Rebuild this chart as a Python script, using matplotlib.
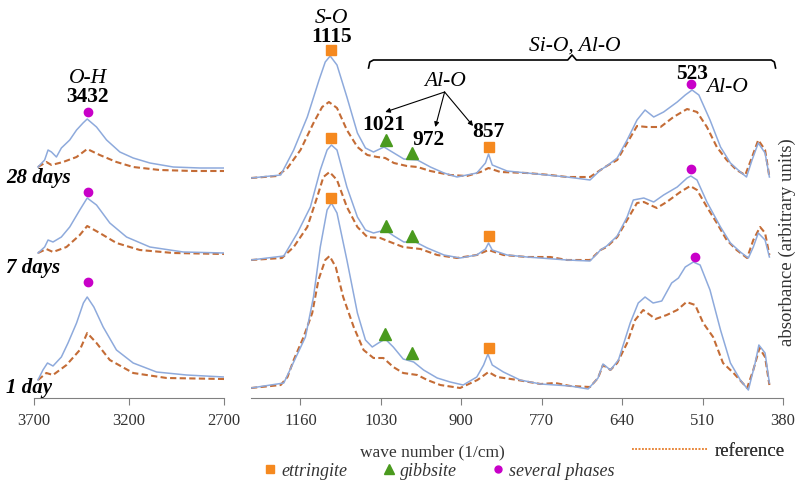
import matplotlib.pyplot as plt
from matplotlib.lines import Line2D
import numpy as np

plt.rcParams['font.family'] = ['Liberation Serif', 'DejaVu Serif']

# spectra: (wave number 1/cm, absorbance a.u., already stacked)
# O-H region
oh_28d_sample = [(3679, 2.31), (3644, 2.38), (3626, 2.48), (3608, 2.46), (3582, 2.41), (3556, 2.50),
                 (3512, 2.58), (3476, 2.68), (3442, 2.75), (3420, 2.79), (3371, 2.71), (3318, 2.58),
                 (3248, 2.46), (3178, 2.40), (3090, 2.35), (2967, 2.31), (2826, 2.30), (2700, 2.30)]
oh_28d_ref = [(3679, 2.31), (3635, 2.36), (3608, 2.33), (3547, 2.36), (3476, 2.41), (3420, 2.49),
              (3354, 2.43), (3266, 2.36), (3178, 2.31), (3038, 2.28), (2862, 2.27), (2700, 2.27)]
oh_7d_sample = [(3679, 1.45), (3644, 1.51), (3626, 1.58), (3600, 1.56), (3556, 1.61), (3512, 1.71),
                (3459, 1.88), (3420, 2.00), (3371, 1.93), (3301, 1.75), (3213, 1.61), (3090, 1.51),
                (2914, 1.46), (2700, 1.45)]
oh_7d_ref = [(3679, 1.45), (3635, 1.49), (3600, 1.46), (3529, 1.51), (3459, 1.63), (3420, 1.72),
             (3354, 1.65), (3266, 1.55), (3143, 1.48), (2967, 1.45), (2700, 1.44)]
oh_1d_sample = [(3679, 0.18), (3653, 0.28), (3629, 0.35), (3600, 0.32), (3556, 0.41), (3521, 0.55),
                (3476, 0.75), (3440, 0.95), (3420, 1.01), (3385, 0.91), (3336, 0.71), (3266, 0.48),
                (3178, 0.35), (3055, 0.26), (2897, 0.23), (2700, 0.21)]
oh_1d_ref = [(3679, 0.18), (3635, 0.25), (3600, 0.23), (3529, 0.33), (3459, 0.48), (3420, 0.65),
             (3371, 0.55), (3301, 0.38), (3178, 0.25), (3002, 0.20), (2700, 0.19)]

# fingerprint region
fp_28d_sample = [(1240, 2.20), (1192, 2.23), (1171, 2.48), (1149, 2.81), (1130, 3.18), (1120, 3.36),
                 (1112, 3.42), (1101, 3.33), (1085, 3.01), (1068, 2.65), (1055, 2.50), (1042, 2.46),
                 (1025, 2.51), (1009, 2.45), (993, 2.39), (971, 2.38), (950, 2.31), (928, 2.25),
                 (907, 2.21), (875, 2.25), (861, 2.35), (856, 2.44), (850, 2.33), (826, 2.27),
                 (794, 2.25), (729, 2.21), (692, 2.18), (675, 2.28), (665, 2.32), (648, 2.40),
                 (632, 2.58), (616, 2.78), (603, 2.88), (589, 2.81), (573, 2.86), (551, 2.96),
                 (538, 3.03), (527, 3.08), (516, 3.03), (498, 2.78), (481, 2.51), (465, 2.35),
                 (449, 2.26), (439, 2.21), (430, 2.38), (420, 2.55), (409, 2.45), (402, 2.21)]
fp_28d_ref = [(1240, 2.20), (1198, 2.22), (1181, 2.30), (1160, 2.48), (1139, 2.75), (1125, 2.91),
              (1114, 2.96), (1101, 2.90), (1085, 2.68), (1068, 2.51), (1052, 2.43), (1036, 2.41),
              (1023, 2.40), (1009, 2.35), (988, 2.32), (971, 2.31), (950, 2.27), (918, 2.23),
              (891, 2.22), (869, 2.26), (856, 2.30), (837, 2.26), (794, 2.25), (756, 2.23),
              (729, 2.21), (692, 2.21), (675, 2.28), (665, 2.32), (648, 2.38), (632, 2.55),
              (616, 2.72), (600, 2.71), (578, 2.71), (557, 2.81), (535, 2.89), (519, 2.86),
              (503, 2.71), (487, 2.51), (471, 2.38), (455, 2.28), (441, 2.23), (430, 2.41),
              (420, 2.58), (409, 2.48), (402, 2.21)]
fp_7d_sample = [(1240, 1.38), (1187, 1.42), (1165, 1.65), (1144, 1.91), (1128, 2.28), (1117, 2.48),
                (1110, 2.53), (1101, 2.48), (1085, 2.11), (1068, 1.81), (1055, 1.68), (1042, 1.65),
                (1023, 1.68), (1009, 1.62), (993, 1.56), (974, 1.56), (955, 1.50), (928, 1.43),
                (902, 1.40), (875, 1.43), (861, 1.49), (856, 1.55), (850, 1.48), (826, 1.43),
                (794, 1.41), (729, 1.38), (692, 1.37), (675, 1.48), (665, 1.52), (648, 1.62),
                (632, 1.81), (622, 1.98), (605, 2.00), (589, 1.96), (573, 2.03), (551, 2.11),
                (535, 2.20), (529, 2.22), (519, 2.18), (503, 1.96), (481, 1.71), (465, 1.55),
                (449, 1.46), (436, 1.40), (428, 1.51), (420, 1.65), (409, 1.58), (402, 1.41)]
fp_7d_ref = [(1240, 1.38), (1190, 1.40), (1171, 1.51), (1149, 1.71), (1133, 2.01), (1123, 2.21),
             (1113, 2.26), (1101, 2.18), (1085, 1.91), (1068, 1.71), (1052, 1.61), (1031, 1.60),
             (1015, 1.56), (994, 1.51), (966, 1.49), (939, 1.43), (907, 1.40), (875, 1.43),
             (856, 1.48), (832, 1.43), (794, 1.41), (756, 1.41), (729, 1.38), (692, 1.38),
             (675, 1.48), (665, 1.51), (648, 1.61), (632, 1.78), (616, 1.95), (605, 1.96),
             (584, 1.90), (568, 1.96), (546, 2.06), (530, 2.12), (519, 2.08), (503, 1.91),
             (487, 1.75), (471, 1.58), (455, 1.48), (438, 1.40), (428, 1.58), (417, 1.71),
             (409, 1.65), (402, 1.43)]
fp_1d_sample = [(1240, 0.10), (1187, 0.15), (1171, 0.36), (1152, 0.61), (1139, 1.01), (1128, 1.51),
                (1117, 1.88), (1110, 1.95), (1101, 1.85), (1085, 1.38), (1068, 0.85), (1055, 0.58),
                (1044, 0.51), (1034, 0.55), (1023, 0.59), (1010, 0.51), (994, 0.39), (977, 0.36),
                (961, 0.28), (939, 0.20), (918, 0.16), (897, 0.13), (875, 0.21), (864, 0.33),
                (857, 0.44), (850, 0.33), (832, 0.26), (805, 0.18), (772, 0.14), (724, 0.12),
                (695, 0.09), (679, 0.20), (671, 0.34), (659, 0.28), (646, 0.38), (627, 0.75),
                (614, 0.95), (603, 1.01), (590, 0.95), (576, 0.97), (560, 1.15), (549, 1.20),
                (538, 1.31), (525, 1.36), (514, 1.33), (498, 1.08), (481, 0.68), (465, 0.35),
                (449, 0.18), (436, 0.08), (425, 0.35), (419, 0.53), (409, 0.45), (402, 0.15)]
fp_1d_ref = [(1240, 0.10), (1192, 0.13), (1181, 0.21), (1171, 0.38), (1155, 0.61), (1141, 0.85),
             (1131, 1.18), (1120, 1.38), (1113, 1.42), (1103, 1.31), (1091, 1.01), (1074, 0.71),
             (1058, 0.48), (1042, 0.40), (1026, 0.40), (1010, 0.31), (994, 0.25), (971, 0.23),
             (955, 0.18), (934, 0.13), (902, 0.10), (874, 0.18), (856, 0.26), (842, 0.21),
             (809, 0.18), (772, 0.14), (748, 0.15), (724, 0.12), (692, 0.11), (679, 0.20),
             (671, 0.33), (659, 0.28), (648, 0.35), (632, 0.55), (619, 0.78), (606, 0.88),
             (586, 0.79), (568, 0.83), (551, 0.88), (536, 0.96), (522, 0.93), (509, 0.75),
             (493, 0.61), (477, 0.35), (460, 0.25), (438, 0.10), (428, 0.28), (418, 0.50),
             (409, 0.41), (402, 0.13)]

# phase markers
ettringite_pts = [(1110, 3.48), (1110, 2.60), (1110, 2.00), (856, 2.51), (856, 1.62), (856, 0.50)]
gibbsite_pts = [(1021, 2.58), (1021, 1.72), (1023, 0.64), (979, 2.45), (979, 1.62), (979, 0.45)]
phases_fp_pts = [(528, 3.14), (528, 2.29), (522, 1.41)]
phases_oh_pts = [(3415, 2.86), (3418, 2.06), (3415, 1.16)]

ages = ['28 days', '7 days', '1 day']
age_levels = [2.20, 1.30, 0.10]
oh_ticks = [3700, 3200, 2700]
fp_ticks = [1160, 1030, 900, 770, 640, 510, 380]

blue = '#8eaadc'
brown = '#c46c36'
orange = '#f5891f'
green = '#4a9a1e'
magenta = '#c800c8'
dash = (0, (3, 1.6))
ann = 15.5

fig = plt.figure(figsize=(7.98, 4.86), dpi=100)
ax_l = fig.add_axes([34 / 798, 88 / 486, 190 / 798, 398 / 486])
ax_r = fig.add_axes([251 / 798, 88 / 486, 532 / 798, 398 / 486])

for ax in (ax_l, ax_r):
    for s in ('top', 'left', 'right'):
        ax.spines[s].set_visible(False)
    ax.spines['bottom'].set_color('#808080')
    ax.set_yticks([])
    ax.set_ylim(0, 3.98)
    ax.tick_params(axis='x', direction='out', length=5, color='#808080',
                   labelsize=12, labelcolor='#333333', pad=6)

ax_l.set_xlim(3700, 2700)
ax_l.set_xticks(oh_ticks)
ax_r.set_xlim(1240, 380)
ax_r.set_xticks(fp_ticks)

for samp, ref in [(oh_28d_sample, oh_28d_ref), (oh_7d_sample, oh_7d_ref), (oh_1d_sample, oh_1d_ref)]:
    ax_l.plot(*np.array(ref).T, color=brown, lw=1.5, ls=dash)
    ax_l.plot(*np.array(samp).T, color=blue, lw=1.1)
for samp, ref in [(fp_28d_sample, fp_28d_ref), (fp_7d_sample, fp_7d_ref), (fp_1d_sample, fp_1d_ref)]:
    ax_r.plot(*np.array(ref).T, color=brown, lw=1.5, ls=dash)
    ax_r.plot(*np.array(samp).T, color=blue, lw=1.1)

ax_r.plot(*np.array(ettringite_pts).T, 's', ms=6.5, color=orange, ls='none')
ax_r.plot(*np.array(gibbsite_pts).T, '^', ms=8.5, color=green, ls='none')
ax_r.plot(*np.array(phases_fp_pts).T, 'o', ms=6, color=magenta, ls='none')
ax_l.plot(*np.array(phases_oh_pts).T, 'o', ms=6, color=magenta, ls='none')

# age labels
for name, lev in zip(ages, age_levels):
    ax_l.text(3845, lev, name, ha='left', va='center', fontsize=15,
              fontweight='bold', style='italic', clip_on=False)

# band annotations
ax_l.text(3417, 3.20, 'O-H', ha='center', va='center', fontsize=ann, style='italic')
ax_l.text(3417, 3.01, '3432', ha='center', va='center', fontsize=ann, fontweight='bold')
ax_r.text(1110, 3.80, 'S-O', ha='center', va='center', fontsize=ann, style='italic')
ax_r.text(1110, 3.61, '1115', ha='center', va='center', fontsize=ann, fontweight='bold')
ax_r.text(717, 3.52, 'Si-O, Al-O', ha='center', va='center', fontsize=ann, style='italic')
ax_r.text(926, 3.17, 'Al-O', ha='center', va='center', fontsize=ann, style='italic')
ax_r.text(1025, 2.73, '1021', ha='center', va='center', fontsize=ann, fontweight='bold')
ax_r.text(953, 2.58, '972', ha='center', va='center', fontsize=ann, fontweight='bold')
ax_r.text(856, 2.66, '857', ha='center', va='center', fontsize=ann, fontweight='bold')
ax_r.text(527, 3.24, '523', ha='center', va='center', fontsize=ann, fontweight='bold')
ax_r.text(471, 3.11, 'Al-O', ha='center', va='center', fontsize=ann, style='italic')

brace = np.array([(1050, 3.30), (1048, 3.36), (1042, 3.38), (728, 3.38), (721, 3.43),
                  (714, 3.38), (399, 3.38), (394, 3.36), (392, 3.30)])
ax_r.plot(brace[:, 0], brace[:, 1], color='black', lw=1.2, clip_on=False)

for tip in [(1023, 2.86), (942, 2.71), (881, 2.72)]:
    ax_r.annotate('', xy=tip, xytext=(927, 3.06),
                  arrowprops=dict(arrowstyle='-|>', lw=0.8, color='black', mutation_scale=7,
                                  shrinkA=0, shrinkB=0))

fig.text(432 / 798, 1 - 452 / 486, 'wave number (1/cm)', ha='center', va='center',
         fontsize=12.5, color='#333333')
fig.text(787 / 798, 1 - 242 / 486, 'absorbance (arbitrary units)', ha='center', va='center',
         rotation=90, fontsize=13.5, color='#333333')

ref_leg = fig.legend([Line2D([], [], color='#e8873a', lw=1.2, ls=(0, (1, 1)))], ['reference'],
                     loc='center left', bbox_to_anchor=(632 / 798, 1 - 451 / 486), frameon=False,
                     fontsize=13.5, handlelength=4.0, handletextpad=0.4,
                     borderpad=0, borderaxespad=0)
for t in ref_leg.get_texts():
    t.set_color('#333333')
fig.add_artist(ref_leg)

handles = [Line2D([], [], marker='s', ms=6, color=orange, ls='none'),
           Line2D([], [], marker='^', ms=7.5, color=green, ls='none'),
           Line2D([], [], marker='o', ms=5, color=magenta, ls='none')]
leg = fig.legend(handles, ['ettringite', 'gibbsite', 'several phases'], loc='center left',
                 bbox_to_anchor=(265 / 798, 1 - 471 / 486), ncol=3, frameon=False,
                 fontsize=13, handlelength=0.6, handletextpad=0.3, columnspacing=2.0,
                 borderpad=0, borderaxespad=0)
for t in leg.get_texts():
    t.set_style('italic')
    t.set_color('#333333')

plt.savefig('out.png', dpi=100)
